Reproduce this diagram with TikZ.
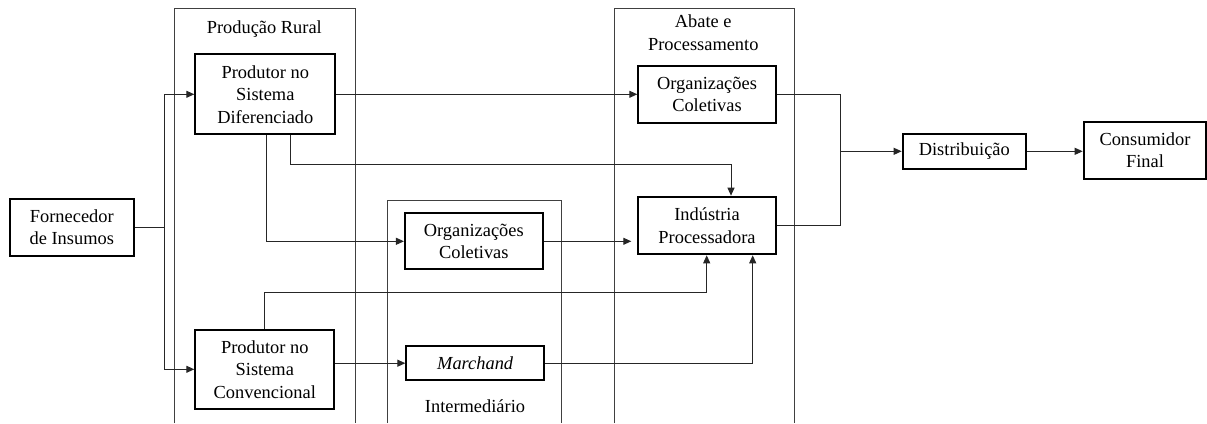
\documentclass[tikz,border=0pt]{standalone}
\usepackage{fontspec}
\setmainfont{LiberationSerif}[Extension=.ttf, UprightFont=*-Regular, ItalicFont=*-Italic, BoldFont=*-Bold]
\usetikzlibrary{arrows.meta}
\begin{document}
\begin{tikzpicture}[x=1pt,y=-1pt,
  txt/.style={font=\fontsize{18.4pt}{22.5pt}\selectfont, align=center, inner sep=0pt},
  stage/.style={txt, draw=black, line width=2pt, minimum width=#1},
  link/.style={line width=1pt, draw=black!85},
  arr/.style={link, -{Triangle[length=8pt,width=7pt]}},
  frame/.style={line width=1pt, draw=black!75}]
\useasboundingbox (0,0) rectangle (1207,423);

% column frames (open at the bottom)
\draw[frame] (174,423) -- (174,8) -- (355.3,8) -- (355.3,423);
\draw[frame] (387.5,423) -- (387.5,200) -- (561.3,200) -- (561.3,423);
\draw[frame] (614.7,423) -- (614.7,8) -- (794.3,8) -- (794.3,423);

% column titles
\node[txt] (tprod) at (264.3,29) {Produção Rural};
\node[txt] (tabate) at (703.3,32.5) {Abate e\\Processamento};
\node[txt] (tint) at (475,405.7) {Intermediário};

% stages
\node[stage=123.7pt, minimum height=56.7pt] (forn) at (71.8,227.3) {Fornecedor\\de Insumos};
\node[stage=140pt, minimum height=80pt] (pdif) at (265.3,94.3) {Produtor no\\Sistema\\Diferenciado};
\node[stage=139pt, minimum height=79.3pt] (pconv) at (264.8,369.3) {Produtor no\\Sistema\\Convencional};
\node[stage=137.7pt, minimum height=56pt] (orgi) at (473.8,241.3) {Organizações\\Coletivas};
\node[stage=137.7pt, minimum height=34.3pt] (march) at (475.2,363.2) {\textit{Marchand}};
\node[stage=137.4pt, minimum height=56.7pt] (orga) at (707,94.3) {Organizações\\Coletivas};
\node[stage=137.4pt, minimum height=57.6pt] (ind) at (707,225.5) {Indústria\\Processadora};
\node[stage=123.3pt, minimum height=35.3pt] (dist) at (964.3,151.3) {Distribuição};
\node[stage=122.6pt, minimum height=56.7pt] (cons) at (1145,150.3) {Consumidor\\Final};

% routing points
\coordinate (j1) at (164.3,227.3);
\coordinate (k1) at (731,164.7);
\coordinate (k2) at (706.7,292.3);
\coordinate (k3) at (752.7,363.2);
\coordinate (j2) at (840,151.3);

% inputs to producers
\draw[link] (forn.east) -- (j1);
\draw[arr] (j1) |- (pdif.west);
\draw[arr] (j1) |- (pconv.west);

% flows from the differentiated producer
\draw[arr] (pdif.east) -- (orga.west);
\draw[arr] ([xshift=1.4pt]pdif.south) |- (orgi.west);
\draw[arr] ([xshift=24.7pt]pdif.south) |- (k1) -- (k1 |- ind.north);

% flows from the conventional producer
\draw[arr] (pconv.north) |- (k2) -- (k2 |- ind.south);
\draw[arr] (pconv.east |- march) -- (march.west);

% intermediaries to the processing industry
\draw[arr, shorten >=6pt] (orgi.east) -- (orgi.east -| ind.west);
\draw[arr] (march.east) -- (k3) -- (k3 |- ind.south);

% to distribution and the final consumer
\draw[link] (orga.east) -| (j2);
\draw[link] (ind.east) -| (j2);
\draw[arr] (j2) -- (dist.west);
\draw[arr] (dist.east) -- (dist.east -| cons.west);
\end{tikzpicture}
\end{document}
